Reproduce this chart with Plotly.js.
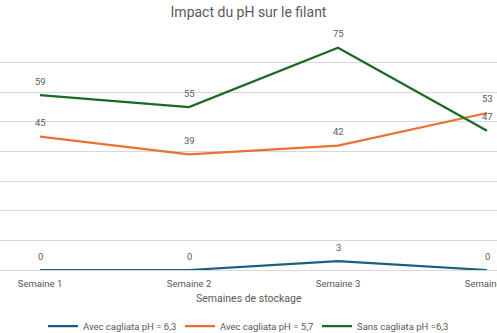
<!DOCTYPE html>
<html><head><meta charset="utf-8">
<script src="https://cdn.plot.ly/plotly-3.0.1.min.js"></script>
<style>html,body{margin:0;padding:0;background:#fff}#chart{width:497px;height:333px}</style>
</head><body><div id="chart"></div>
<script>
const categories = ["Semaine 1", "Semaine 2", "Semaine 3", "Semaine 4"];
const seriesNames = ["Avec cagliata pH = 6,3", "Avec cagliata pH = 5,7", "Sans cagliata pH =6,3"];
const avec63 = [0, 0, 3, 0];
const avec57 = [45, 39, 42, 53];
const sans63 = [59, 55, 75, 47];
const colors = ["#156082", "#E97132", "#196B24"];
const allSeries = [avec63, avec57, sans63];
const font = "Roboto, Open Sans, sans-serif";
const grey = "#595959";
const xs = categories.map((c, i) => i);
const traces = allSeries.map((vals, k) => ({
  x: xs, y: vals, type: "scatter", mode: "lines",
  name: seriesNames[k],
  line: {color: colors[k], width: 2.25}, cliponaxis: false, hoverinfo: "none"
}));
const annotations = [];
allSeries.forEach(vals => vals.forEach((v, i) => annotations.push({
  x: xs[i], y: v, xref: "x", yref: "y", text: String(v), showarrow: false,
  yshift: 14, font: {size: 9.5, color: grey, family: font}
})));
annotations.push({
  text: "Semaines de stockage", xref: "paper", yref: "paper", x: 0.5, y: (270 - 298) / 237,
  yanchor: "middle", showarrow: false, font: {size: 10.5, color: grey, family: font}
});
const layout = {
  width: 497, height: 333,
  margin: {l: 0, r: 0, t: 33, b: 63, autoexpand: false},
  paper_bgcolor: "#fff", plot_bgcolor: "#fff",
  title: {text: "Impact du pH sur le filant", x: 0.5, xanchor: "center", y: 0.963, yanchor: "middle",
          font: {size: 14, color: grey, family: font}},
  xaxis: {tickvals: xs, ticktext: categories, range: [-40/149, 3 + 10/149],
          showgrid: false, zeroline: false, showline: false, ticks: "", ticklabeloverflow: "allow",
          ticklabelstandoff: 6,
          tickfont: {size: 9.5, color: grey, family: font}, automargin: false},
  yaxis: {range: [0, 80], dtick: 10, showticklabels: false, showgrid: true, automargin: false,
          gridcolor: "#D9D9D9", gridwidth: 1, zeroline: true, zerolinecolor: "#D9D9D9", ticks: ""},
  annotations: annotations,
  showlegend: true,
  legend: {orientation: "h", x: 0.5, xanchor: "center", yref: "container", y: (333 - 326) / 333, yanchor: "middle",
           font: {size: 9.5, color: grey, family: font}, itemwidth: 30, traceorder: "normal",
           entrywidth: 92, entrywidthmode: "pixels"}
};
Plotly.newPlot("chart", traces, layout, {displayModeBar: false, staticPlot: true});
</script></body></html>
